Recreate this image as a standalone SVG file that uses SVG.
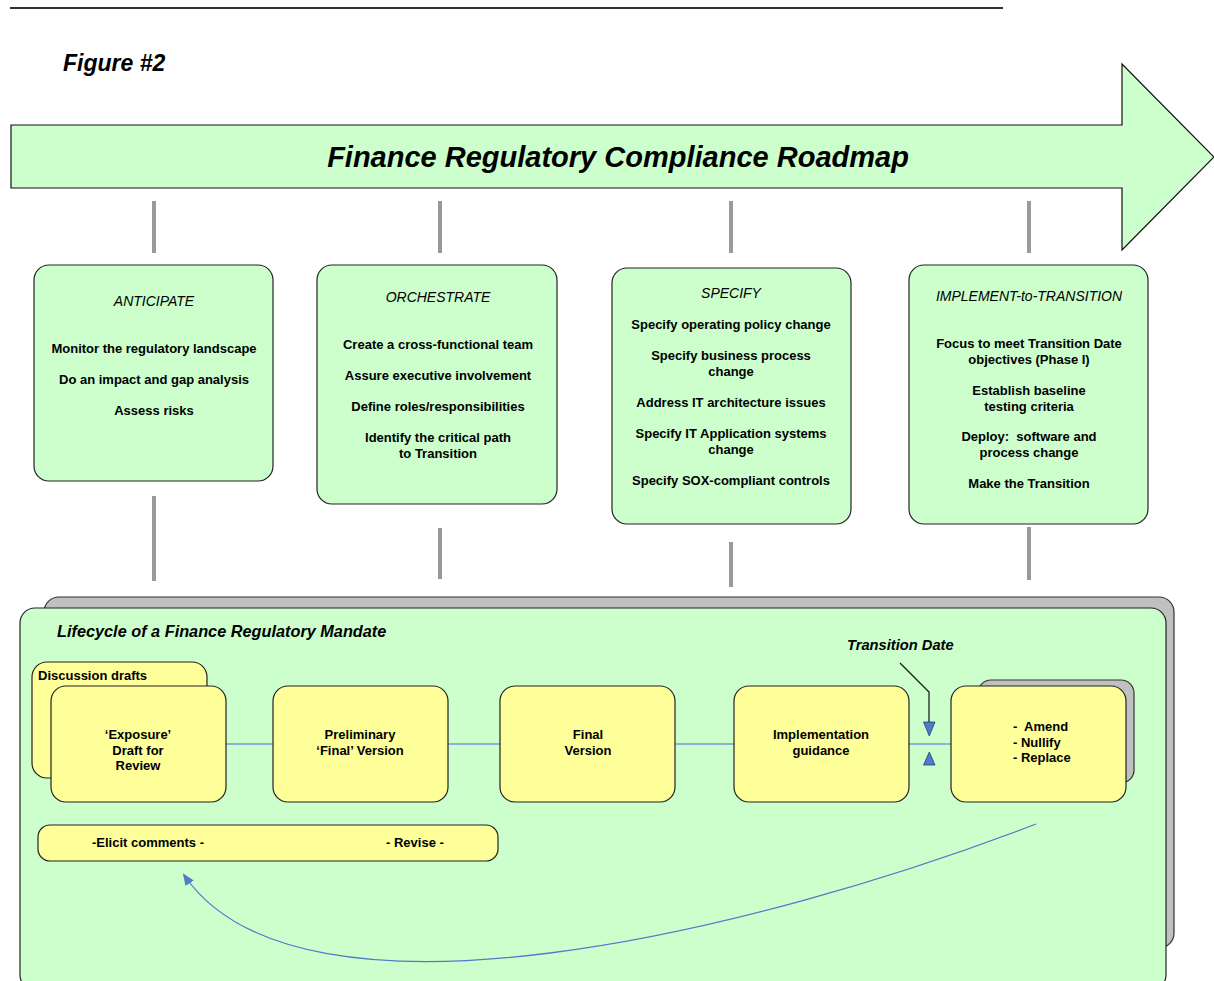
<svg xmlns="http://www.w3.org/2000/svg" width="1214" height="981" viewBox="0 0 1214 981">
<defs>
<style>
text{font-family:"Liberation Sans",Arial,sans-serif;fill:#000}
.b{font-size:13px;font-weight:bold;text-anchor:middle}
.bl{font-size:13px;font-weight:bold}
.t{font-size:14px;font-style:italic;text-anchor:middle}
.phase{fill:#CCFFCC;stroke:#222;stroke-width:1.2}
.yel{fill:#FFFF99;stroke:#222;stroke-width:1.2}
.gray{fill:#C0C0C0;stroke:#333;stroke-width:1.2}
.bar{stroke:#999;stroke-width:4}
.link{stroke:#8DB4D2;stroke-width:2}
</style>
<marker id="ah" markerWidth="12" markerHeight="10" refX="10" refY="5" orient="auto" markerUnits="userSpaceOnUse">
<path d="M0,0 L12,5 L0,10 Z" fill="#4F7BC8"/>
</marker>
</defs>
<rect width="1214" height="981" fill="#fff"/>
<line x1="10" y1="8" x2="1003" y2="8" stroke="#333" stroke-width="2"/>
<text x="63" y="71" style="font-size:23px;font-weight:bold;font-style:italic">Figure #2</text>
<g id="roadmap">
<polygon points="11,125 1122,125 1122,64 1214,157 1122,250 1122,188 11,188" fill="#CCFFCC" stroke="#111" stroke-width="1.2"/>
<text x="618" y="167" style="font-size:29px;font-weight:bold;font-style:italic;text-anchor:middle">Finance Regulatory Compliance Roadmap</text>
</g>
<g id="connectors">
<line class="bar" x1="154" y1="201" x2="154" y2="253"/>
<line class="bar" x1="440" y1="201" x2="440" y2="253"/>
<line class="bar" x1="731" y1="201" x2="731" y2="253"/>
<line class="bar" x1="1029" y1="201" x2="1029" y2="253"/>
<line class="bar" x1="154" y1="496" x2="154" y2="581"/>
<line class="bar" x1="440" y1="528" x2="440" y2="579"/>
<line class="bar" x1="731" y1="542" x2="731" y2="587"/>
<line class="bar" x1="1029" y1="527" x2="1029" y2="580"/>
</g>
<g id="anticipate">
<rect class="phase" x="34" y="265" width="239" height="216" rx="15"/>
<text class="t" x="154" y="306">ANTICIPATE</text>
<text class="b" x="154" y="353">Monitor the regulatory landscape</text>
<text class="b" x="154" y="384">Do an impact and gap analysis</text>
<text class="b" x="154" y="415">Assess risks</text>
</g>
<g id="orchestrate">
<rect class="phase" x="317" y="265" width="240" height="239" rx="15"/>
<text class="t" x="438" y="302">ORCHESTRATE</text>
<text class="b" x="438" y="349">Create a cross-functional team</text>
<text class="b" x="438" y="380">Assure executive involvement</text>
<text class="b" x="438" y="411">Define roles/responsibilities</text>
<text class="b" x="438" y="442">Identify the critical path</text>
<text class="b" x="438" y="458">to Transition</text>
</g>
<g id="specify">
<rect class="phase" x="612" y="268" width="239" height="256" rx="15"/>
<text class="t" x="731" y="298">SPECIFY</text>
<text class="b" x="731" y="329">Specify operating policy change</text>
<text class="b" x="731" y="360">Specify business process</text>
<text class="b" x="731" y="376">change</text>
<text class="b" x="731" y="407">Address IT architecture issues</text>
<text class="b" x="731" y="438">Specify IT Application systems</text>
<text class="b" x="731" y="454">change</text>
<text class="b" x="731" y="485">Specify SOX-compliant controls</text>
</g>
<g id="implement">
<rect class="phase" x="909" y="265" width="239" height="259" rx="15"/>
<text class="t" x="1029" y="301">IMPLEMENT-to-TRANSITION</text>
<text class="b" x="1029" y="348">Focus to meet Transition Date</text>
<text class="b" x="1029" y="364">objectives (Phase I)</text>
<text class="b" x="1029" y="395">Establish baseline</text>
<text class="b" x="1029" y="411">testing criteria</text>
<text class="b" x="1029" y="441" xml:space="preserve">Deploy:  software and</text>
<text class="b" x="1029" y="457">process change</text>
<text class="b" x="1029" y="488">Make the Transition</text>
</g>
<g id="lifecycle">
<rect class="gray" x="44" y="597" width="1130" height="351" rx="15"/>
<rect class="phase" x="20" y="608" width="1146" height="382" rx="15"/>
<text x="57" y="637" style="font-size:16.3px;font-weight:bold;font-style:italic">Lifecycle of a Finance Regulatory Mandate</text>
</g>
<g id="links">
<line class="link" x1="226" y1="744" x2="273" y2="744"/>
<line class="link" x1="448" y1="744" x2="500" y2="744"/>
<line class="link" x1="675" y1="744" x2="734" y2="744"/>
<line class="link" x1="909" y1="744" x2="951" y2="744"/>
<path d="M1036,824 C760,930 300,1045 184,875" fill="none" stroke="#4F7BC8" stroke-width="1.3" marker-end="url(#ah)"/>
</g>
<g id="discussion">
<rect class="yel" x="32" y="662" width="175" height="116" rx="15"/>
<text class="bl" x="38" y="680">Discussion drafts</text>
</g>
<g id="exposure">
<rect class="yel" x="51" y="686" width="175" height="116" rx="15"/>
<text class="b" x="138" y="739">‘Exposure’</text>
<text class="b" x="138" y="755">Draft for</text>
<text class="b" x="138" y="770">Review</text>
</g>
<g id="preliminary">
<rect class="yel" x="273" y="686" width="175" height="116" rx="15"/>
<text class="b" x="360" y="739">Preliminary</text>
<text class="b" x="360" y="755">‘Final’ Version</text>
</g>
<g id="final">
<rect class="yel" x="500" y="686" width="175" height="116" rx="15"/>
<text class="b" x="588" y="739">Final</text>
<text class="b" x="588" y="755">Version</text>
</g>
<g id="implementation">
<rect class="yel" x="734" y="686" width="175" height="116" rx="15"/>
<text class="b" x="821" y="739">Implementation</text>
<text class="b" x="821" y="755">guidance</text>
</g>
<g id="amend">
<rect class="gray" x="978" y="680" width="156" height="103" rx="13"/>
<rect class="yel" x="951" y="686" width="175" height="116" rx="15"/>
<text class="bl" x="1013" y="731" xml:space="preserve">-  Amend</text>
<text class="bl" x="1013" y="747">- Nullify</text>
<text class="bl" x="1013" y="762">- Replace</text>
</g>
<g id="transition-date">
<text x="847" y="650" style="font-size:14.7px;font-weight:bold;font-style:italic">Transition Date</text>
<polyline points="900,663 929,692 929,722" fill="none" stroke="#111" stroke-width="1.2"/>
<polygon points="923.5,722 935,722 929.3,736" fill="#4F7BC8" stroke="#1F3F7F" stroke-width="0.8"/>
<polygon points="923.5,765 935,765 929.3,752" fill="#4F7BC8" stroke="#1F3F7F" stroke-width="0.8"/>
</g>
<g id="elicit">
<rect class="yel" x="38" y="825" width="460" height="36" rx="12"/>
<text class="bl" x="92" y="847">-Elicit comments -</text>
<text class="bl" x="386" y="847">- Revise -</text>
</g>
</svg>
